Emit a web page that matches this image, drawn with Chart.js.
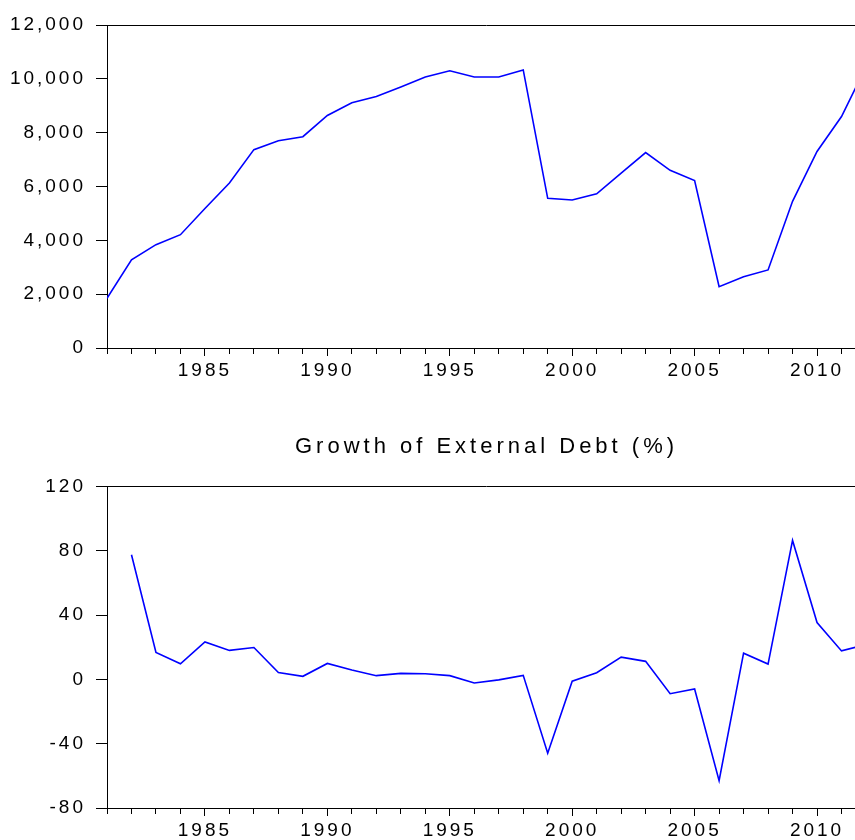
<!DOCTYPE html>
<html>
<head>
<meta charset="utf-8">
<title>External Debt</title>
<script src="https://cdn.jsdelivr.net/npm/chart.js@4.4.1/dist/chart.umd.min.js"></script>
<style>
    html, body { margin: 0; padding: 0; background: #fff; overflow: hidden; }
    .panel { position: absolute; left: 0; width: 870px; }
    #topPanel { top: 0; height: 400px; }
    #bottomPanel { top: 400px; height: 440px; }
</style>
</head>
<body>
<div class="panel" id="topPanel"><canvas id="debtChart"></canvas></div>
<div class="panel" id="bottomPanel"><canvas id="growthChart"></canvas></div>
<script>
        // Data
        const years = [1981, 1982, 1983, 1984, 1985, 1986, 1987, 1988, 1989, 1990,
            1991, 1992, 1993, 1994, 1995, 1996, 1997, 1998, 1999, 2000,
            2001, 2002, 2003, 2004, 2005, 2006, 2007, 2008, 2009, 2010,
            2011, 2012];
        const externalDebt = [1850, 3280, 3840, 4210, 5180, 6130, 7370, 7700, 7850, 8640,
            9110, 9340, 9700, 10070, 10300, 10070, 10070, 10330, 5560, 5500,
            5730, 6500, 7260, 6600, 6220, 2280, 2650, 2900, 5450, 7300,
            8600, 10450];
        const debtGrowth = [null, 77.5, 16.7, 9.7, 23.3, 18.0, 19.8, 4.3, 1.9, 9.9,
            5.8, 2.3, 3.7, 3.5, 2.3, -2.3, -0.3, 2.5, -45.9, -1.1,
            4.1, 13.8, 11.2, -8.9, -6.0, -63.0, 16.3, 9.5, 86.4, 35.3,
            17.7, 21.6];
        const debtTicks = [0, 2000, 4000, 6000, 8000, 10000, 12000];
        const growthTicks = [-80, -40, 0, 40, 80, 120];
        const growthTitle = 'Growth of External Debt (%)';

        Chart.defaults.font.family = "'Liberation Sans', Arial, sans-serif";
        Chart.defaults.color = '#000';

        // wide EViews-like lettering: title first, tick labels (z: 1) after
        const textSpacing = {
            id: 'textSpacing',
            beforeDraw(chart) { chart.ctx.letterSpacing = '4px'; },
            beforeDatasetsDraw(chart) { chart.ctx.letterSpacing = '3px'; }
        };

        // top and right edges of the frame
        const frameEdge = {
            id: 'frameEdge',
            afterDraw(chart) {
                const { ctx, chartArea } = chart;
                const top = Math.round(chartArea.top) + 0.5;
                ctx.save();
                ctx.strokeStyle = '#000';
                ctx.lineWidth = 1;
                ctx.beginPath();
                ctx.moveTo(chartArea.left, top);
                ctx.lineTo(chartArea.right, top);
                ctx.lineTo(chartArea.right, chartArea.bottom);
                ctx.stroke();
                ctx.restore();
            }
        };

        function toPoints(values) {
            return years.map((y, i) => ({ x: y, y: values[i] }));
        }

        function makeOptions(tickValues, tickFormat, xAxisHeight, padding, title) {
            return {
                responsive: true,
                maintainAspectRatio: false,
                animation: false,
                devicePixelRatio: 1,
                layout: { padding: padding },
                scales: {
                    x: {
                        type: 'linear',
                        min: years[0],
                        max: years[years.length - 1],
                        afterBuildTicks: scale => { scale.ticks = years.map(v => ({ value: v })); },
                        afterFit: scale => { scale.height = xAxisHeight; },
                        border: { display: true, color: '#000', width: 1 },
                        grid: {
                            drawOnChartArea: false,
                            drawTicks: true,
                            tickLength: 8,
                            tickColor: '#000',
                            tickWidth: 1,
                            tickBorderDash: ctx => (ctx.tick && ctx.tick.value % 5 === 0) ? [] : [5, 30]
                        },
                        ticks: {
                            z: 1,
                            autoSkip: false,
                            maxRotation: 0,
                            padding: 3,
                            font: { size: 19 },
                            color: '#000',
                            callback: value => value % 5 === 0 ? String(value) : ''
                        }
                    },
                    y: {
                        min: tickValues[0],
                        max: tickValues[tickValues.length - 1],
                        afterBuildTicks: scale => { scale.ticks = tickValues.map(v => ({ value: v })); },
                        afterFit: scale => { scale.width = 107; },
                        border: { display: true, color: '#000', width: 1 },
                        grid: {
                            drawOnChartArea: false,
                            drawTicks: true,
                            tickLength: 11,
                            tickColor: '#000',
                            tickWidth: 1
                        },
                        ticks: {
                            z: 1,
                            padding: 10,
                            font: { size: 19 },
                            color: '#000',
                            callback: tickFormat
                        }
                    }
                },
                plugins: {
                    legend: { display: false },
                    tooltip: { enabled: false },
                    title: title
                }
            };
        }

        // External debt level
        function createDebtChart() {
            const ctx = document.getElementById('debtChart').getContext('2d');
            return new Chart(ctx, {
                type: 'line',
                data: {
                    datasets: [{
                        label: 'External Debt',
                        data: toPoints(externalDebt),
                        borderColor: '#0000ff',
                        borderWidth: 1.6,
                        pointRadius: 0,
                        tension: 0
                    }]
                },
                options: makeOptions(debtTicks, v => v.toLocaleString('en-US'), 52,
                    { top: 25, right: 4, left: 0, bottom: 0 },
                    { display: false }),
                plugins: [textSpacing, frameEdge]
            });
        }

        // Growth of external debt
        function createGrowthChart() {
            const ctx = document.getElementById('growthChart').getContext('2d');
            return new Chart(ctx, {
                type: 'line',
                data: {
                    datasets: [{
                        label: growthTitle,
                        data: toPoints(debtGrowth),
                        borderColor: '#0000ff',
                        borderWidth: 1.6,
                        pointRadius: 0,
                        tension: 0,
                        spanGaps: false
                    }]
                },
                options: makeOptions(growthTicks, v => String(v), 32,
                    { top: 0, right: 4, left: 0, bottom: 0 },
                    {
                        display: true,
                        text: growthTitle,
                        fullSize: false,
                        color: '#000',
                        font: { size: 22, weight: 'normal' },
                        padding: { top: 34, bottom: 26 }
                    }),
                plugins: [textSpacing, frameEdge]
            });
        }

        createDebtChart();
        createGrowthChart();
</script>
</body>
</html>
